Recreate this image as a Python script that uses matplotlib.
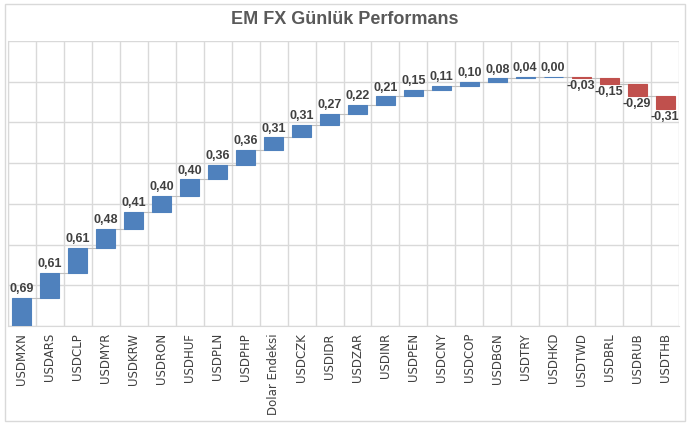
import numpy as np
import matplotlib
matplotlib.use("Agg")
import matplotlib.pyplot as plt
from matplotlib.patches import Rectangle

# Data
categories = ['USDMXN', 'USDARS', 'USDCLP', 'USDMYR', 'USDKRW', 'USDRON', 'USDHUF',
              'USDPLN', 'USDPHP', 'Dolar Endeksi', 'USDCZK', 'USDIDR', 'USDZAR',
              'USDINR', 'USDPEN', 'USDCNY', 'USDCOP', 'USDBGN', 'USDTRY', 'USDHKD',
              'USDTWD', 'USDBRL', 'USDRUB', 'USDTHB']
values = [0.69, 0.61, 0.61, 0.48, 0.41, 0.40, 0.40, 0.36, 0.36, 0.31, 0.31, 0.27,
          0.22, 0.21, 0.15, 0.11, 0.10, 0.08, 0.04, 0.00, -0.03, -0.15, -0.29, -0.31]
title = 'EM FX Günlük Performans'

blue = '#4F81BD'
red = '#C0504D'
grid = '#D9D9D9'
txt = '#404040'

vals = np.array(values)
ends = np.cumsum(vals)
starts = ends - vals
x = np.arange(len(vals))
colors = [blue if v >= 0 else red for v in vals]

fig = plt.figure(figsize=(6.9, 4.25), dpi=100)
ax = fig.add_axes([8 / 690, 1 - 326 / 425, 671 / 690, 285 / 425])

# outer chart border
fig.patches.append(Rectangle((5 / 690, 4 / 425), 680 / 690, 417 / 425,
                             transform=fig.transFigure, fill=False,
                             edgecolor=grid, linewidth=1))

w = 0.68
ax.bar(x, vals, bottom=starts, width=w, color=colors, edgecolor=colors,
       linewidth=0.8, zorder=3)

# connector lines between bars
for i in range(len(vals) - 1):
    ax.plot([x[i] + w / 2, x[i + 1] - w / 2], [ends[i], ends[i]],
            color='#BFBFBF', linewidth=0.8, zorder=2)

# data labels
for i, v in enumerate(vals):
    lab = f'{v:.2f}'.replace('.', ',')
    if v >= 0:
        ax.annotate(lab, (x[i], ends[i]), xytext=(0, 2), textcoords='offset points',
                    ha='center', va='bottom', fontsize=9, fontweight='bold',
                    color=txt, family='Liberation Sans', zorder=4)
    else:
        ax.annotate(lab, (x[i], ends[i]), xytext=(0, -1.5), textcoords='offset points',
                    ha='center', va='top', fontsize=9, fontweight='bold',
                    color=txt, family='Liberation Sans', zorder=4)

ax.set_xlim(-0.5, len(vals) - 0.5)
ax.set_ylim(0, 7)
ax.set_yticks(np.arange(0, 8, 1))
ax.set_yticklabels([])
ax.set_xticks(x)
ax.set_xticklabels(categories, rotation=90, fontsize=8.5, color=txt)
ax.set_xticks(np.arange(-0.5, len(vals), 1), minor=True)
ax.tick_params(axis='both', which='both', length=0)
ax.tick_params(axis='x', which='major', pad=5)
ax.grid(axis='y', which='major', color=grid, linewidth=1, zorder=0)
ax.grid(axis='x', which='minor', color=grid, linewidth=1, zorder=0)
ax.set_axisbelow(True)
for s in ax.spines.values():
    s.set_color(grid)
ax.spines['top'].set_visible(False)
ax.spines['right'].set_visible(False)

fig.text(0.5, 1 - 19 / 425, title, ha='center', va='center', fontsize=13,
         fontweight='bold', color='#595959', family='Liberation Sans')

fig.savefig('out.png', dpi=100)
